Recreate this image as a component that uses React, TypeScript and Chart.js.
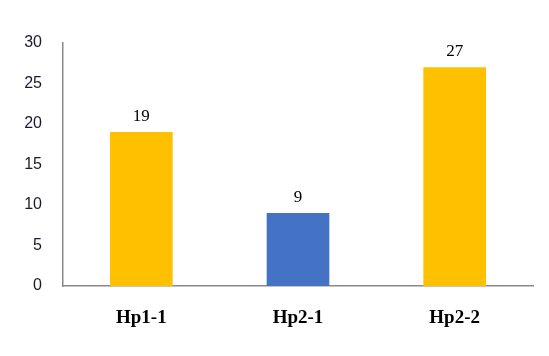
import React, { useEffect, useRef } from "react";
import { Chart, registerables } from "chart.js";

Chart.register(...registerables);

const categories = ["Hp1-1", "Hp2-1", "Hp2-2"];
const values = [19, 9, 27];
const barColors = ["#FFC000", "#4472C4", "#FFC000"];
const yTicks = [0, 5, 10, 15, 20, 25, 30];

const dataLabelPlugin = {
  id: "dataLabels",
  afterDatasetsDraw(chart: any) {
    const ctx = chart.ctx;
    const meta = chart.getDatasetMeta(0);
    ctx.save();
    ctx.font = '17px "Liberation Serif", "Times New Roman", serif';
    ctx.fillStyle = "#000";
    ctx.textAlign = "center";
    ctx.textBaseline = "alphabetic";
    meta.data.forEach((bar: any, i: number) => {
      ctx.fillText(String(values[i]), bar.x, bar.y - 11);
    });
    ctx.restore();
  },
};

export default function App() {
  const ref = useRef<HTMLCanvasElement | null>(null);
  useEffect(() => {
    if (!ref.current) return;
    const chart = new Chart(ref.current, {
      type: "bar",
      data: {
        labels: categories,
        datasets: [
          {
            data: values,
            backgroundColor: barColors,
            barPercentage: 0.4,
            categoryPercentage: 1,
          },
        ],
      },
      options: {
        responsive: false,
        animation: false,
        layout: { padding: { top: 43, right: 16, left: 0, bottom: 0 } },
        plugins: {
          legend: { display: false },
          tooltip: { enabled: false },
        },
        scales: {
          x: {
            grid: { display: false, drawTicks: false },
            border: { display: true, color: "#898989", width: 1.5 },
            ticks: {
              padding: 21,
              color: "#000",
              font: { family: '"Liberation Serif", "Times New Roman", serif', size: 19, weight: "bold" },
            },
            afterFit(scale: any) {
              scale.height = 70;
            },
          },
          y: {
            min: 0,
            max: 30,
            grid: { display: false, drawTicks: false },
            border: { display: true, color: "#898989", width: 1.5 },
            afterBuildTicks(scale: any) {
              scale.ticks = yTicks.map((v) => ({ value: v }));
            },
            ticks: {
              padding: 21,
              color: "#1a1a2e",
              font: { family: '"Liberation Sans", Arial, sans-serif', size: 16 },
            },
            afterFit(scale: any) {
              scale.width = 63;
            },
          },
        },
      },
      plugins: [dataLabelPlugin],
    });
    return () => chart.destroy();
  }, []);
  return (
    <canvas
      ref={ref}
      width={549}
      height={356}
      style={{ position: "fixed", left: 0, top: 0, display: "block", background: "#fff" }}
    />
  );
}
